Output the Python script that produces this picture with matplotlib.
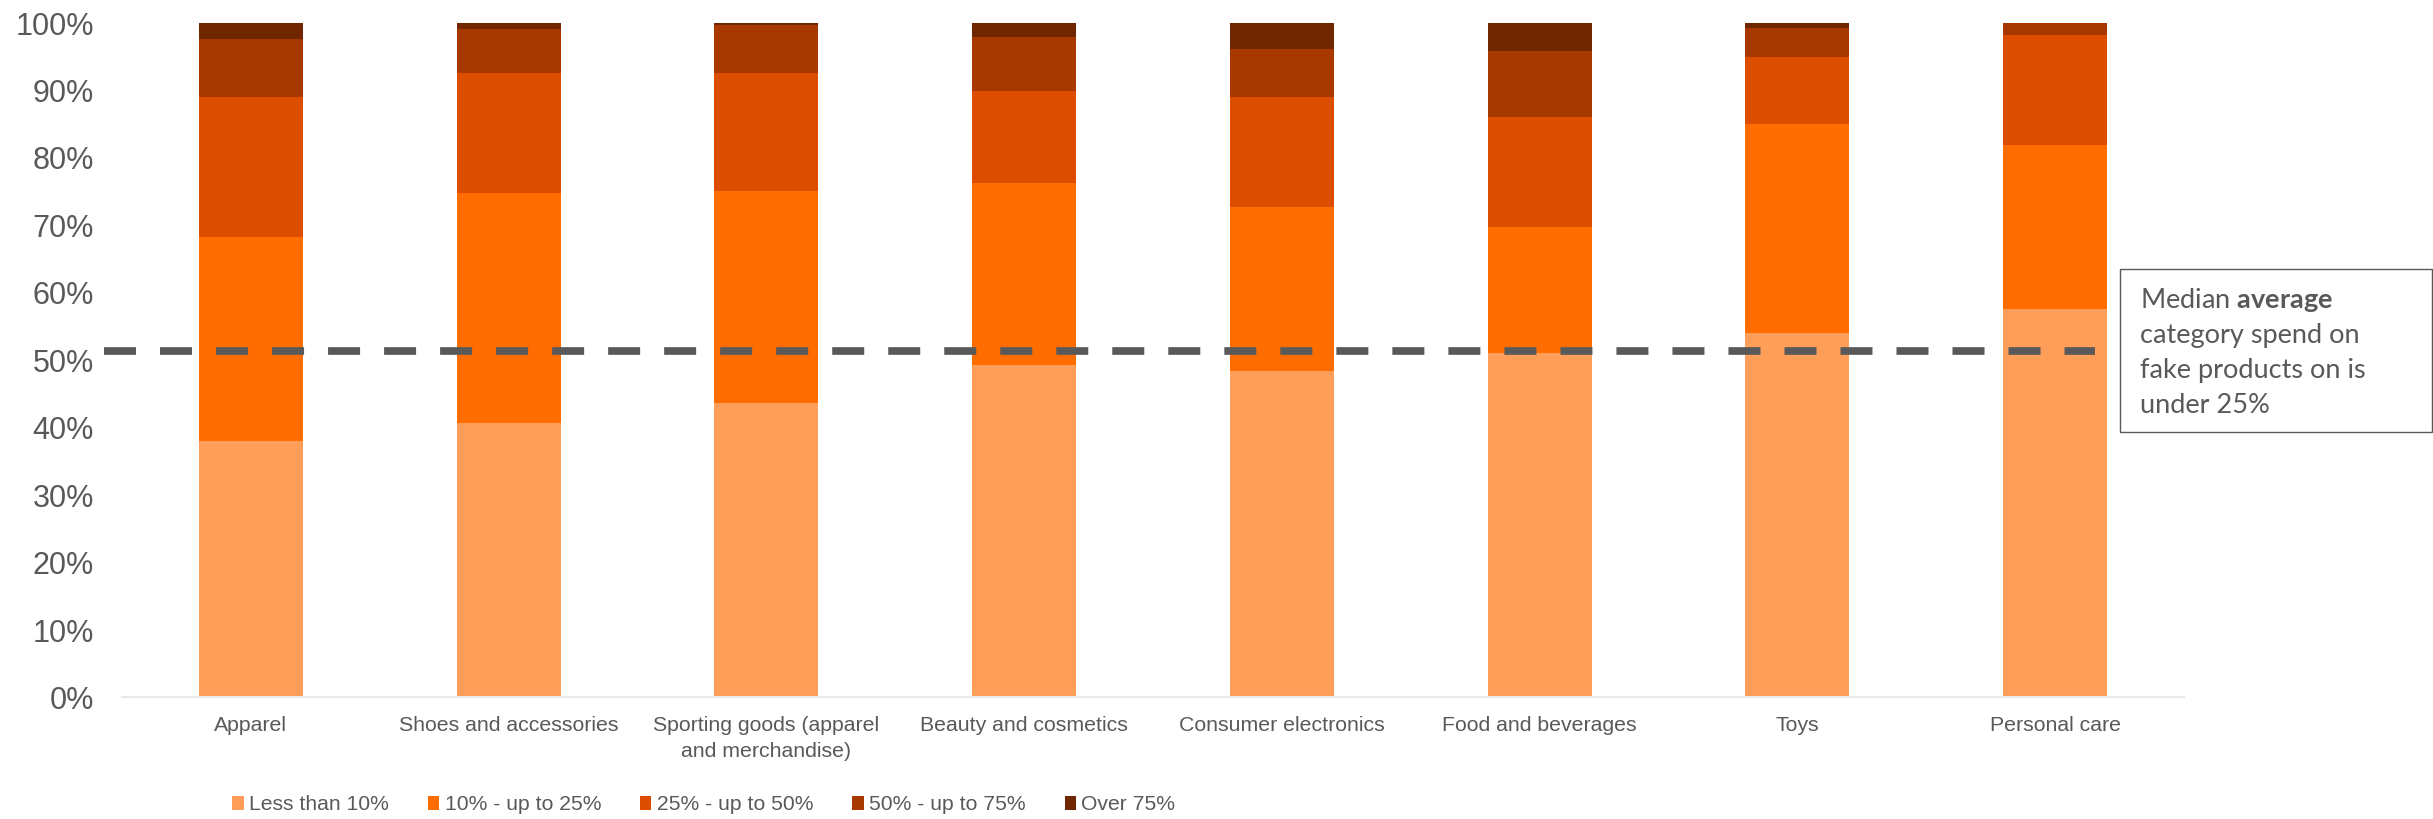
import matplotlib.pyplot as plt
import numpy as np
from matplotlib.patches import Rectangle
from matplotlib.ticker import FuncFormatter

categories = ["Apparel", "Shoes and accessories", "Sporting goods (apparel\nand merchandise)",
              "Beauty and cosmetics", "Consumer electronics", "Food and beverages",
              "Toys", "Personal care"]
series_names = ["Less than 10%", "10% - up to 25%", "25% - up to 50%", "50% - up to 75%", "Over 75%"]
less_10 = [38.0, 40.7, 43.7, 49.3, 48.4, 51.1, 54.0, 57.6]
up_to_25 = [30.2, 34.1, 31.4, 27.0, 24.3, 18.7, 31.1, 24.3]
up_to_50 = [20.8, 17.8, 17.5, 13.6, 16.3, 16.3, 9.8, 16.3]
up_to_75 = [8.6, 6.5, 7.1, 8.0, 7.1, 9.8, 4.4, 1.8]
over_75 = [2.4, 0.9, 0.3, 2.1, 3.9, 4.1, 0.7, 0.0]
median_line = 51.4
note_lines = ["Median $\\mathbf{average}$", "category spend on", "fake products on is", "under 25%"]

colors = ["#FF9E59", "#FF6D00", "#DD4D00", "#A63800", "#702600"]
GREY = "#595959"


def main():
    plt.rcParams["font.family"] = ["Liberation Sans", "DejaVu Sans"]
    plt.rcParams["mathtext.fontset"] = "custom"
    plt.rcParams["mathtext.rm"] = "Lato"
    plt.rcParams["mathtext.bf"] = "Lato:bold"

    fig = plt.figure(figsize=(24.33, 8.19), dpi=100)
    ax = fig.add_axes([0.0501, 0.1484, 0.8476, 0.8235])

    x = np.arange(len(categories))
    bottom = np.zeros(len(categories))
    handles = []
    for name, vals, c in zip(series_names, [less_10, up_to_25, up_to_50, up_to_75, over_75], colors):
        vals = np.array(vals)
        h = ax.bar(x, vals, 0.4035, bottom=bottom, color=c, label=name, linewidth=0)
        handles.append(h)
        bottom += vals

    # median reference line (a drawn shape in the original, runs past the axes)
    ax.plot([-0.57, 7.155], [median_line, median_line], color=GREY, lw=5.54,
            linestyle=(0, (4.16, 3.12)), dash_capstyle="butt", clip_on=False, zorder=5)

    ax.set_xlim(-0.5, 7.5)
    ax.set_ylim(0, 100)
    ax.set_yticks(np.arange(0, 101, 10))
    ax.yaxis.set_major_formatter(FuncFormatter(lambda v, _: f"{v:.0f}%"))
    ax.set_xticks(x)
    ax.set_xticklabels(categories, fontsize=15.3, color=GREY, linespacing=1.45)
    ax.tick_params(axis="y", length=0, labelsize=22, labelcolor=GREY, pad=20)
    ax.tick_params(axis="x", length=0, pad=13.5)
    for s in ["top", "right", "left"]:
        ax.spines[s].set_visible(False)
    ax.spines["bottom"].set_color("#E8E8E8")
    ax.spines["bottom"].set_linewidth(1.5)

    leg = fig.legend(handles=handles, loc="center left", bbox_to_anchor=(0.0955, 0.0171),
                     ncol=5, frameon=False, fontsize=15.2, handlelength=0.53, handleheight=0.7,
                     handletextpad=0.26, columnspacing=1.85, borderpad=0, borderaxespad=0)
    for t in leg.get_texts():
        t.set_color(GREY)

    # note box
    fig.add_artist(Rectangle((0.8713, 0.4729), 0.1283, 0.1987, transform=fig.transFigure,
                             facecolor="white", edgecolor=GREY, lw=1.0))
    for i, line in enumerate(note_lines):
        y = 1 - (308.3 + 35 * i) / 819
        fig.text(0.8796, y, line, fontsize=19.5, family="Lato", color=GREY, va="baseline")

    plt.savefig("out.png", dpi=100)


if __name__ == "__main__":
    main()
